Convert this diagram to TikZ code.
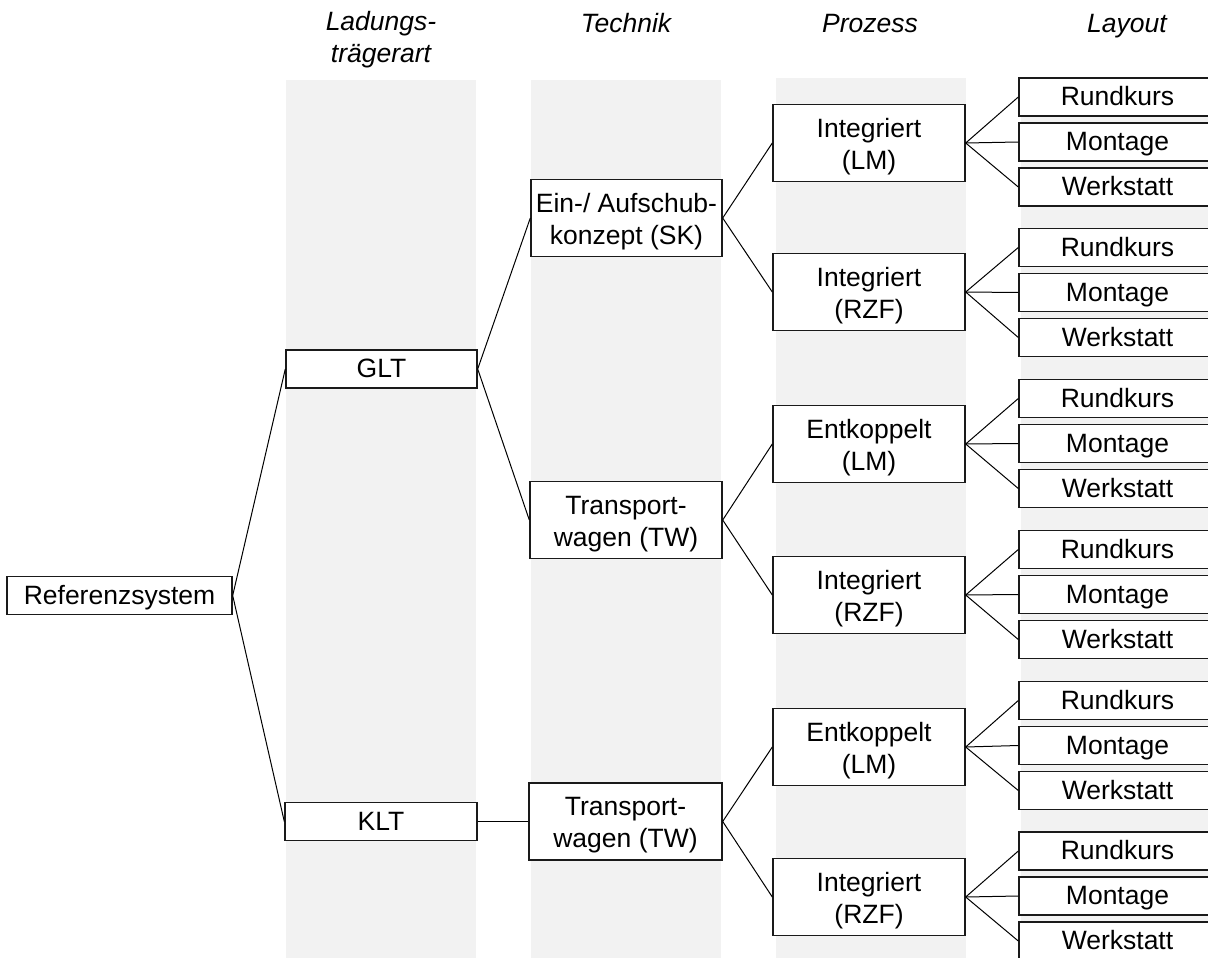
\documentclass[tikz,border=0pt]{standalone}
\usepackage{fontspec}
\setmainfont{Liberation Sans}
\definecolor{bandgray}{HTML}{F2F2F2}
\definecolor{edge}{HTML}{1A1A1A}
% two centred lines with a fixed top strut, so every two-line box sets its baselines alike
\newcommand{\twolines}[2]{\rule{0pt}{25.5pt}#1\\#2}
\begin{document}
\begin{tikzpicture}[x=1pt,y=-1pt,
  every node/.style={font=\fontsize{26.5}{32}\selectfont},
  band/.style={fill=bandgray, draw=none},
  head/.style={anchor=base, inner sep=0pt, font=\fontsize{26.5}{32}\selectfont\itshape},
  box/.style={draw=edge, line width=1.4pt, fill=white, align=center, inner sep=0pt},
  onebox/.style={box, minimum width=#1, minimum height=38pt, text height=21pt, text depth=3.5pt},
  twobox/.style={box, minimum width=#1, minimum height=77pt},
  link/.style={draw=black, line width=1pt}
]
% page frame
\useasboundingbox (0,0) rectangle (1208,958);

% column bands
\fill[band] (286,80) rectangle (476,958);
\fill[band] (531,80) rectangle (721,958);
\fill[band] (776,78) rectangle (966,958);
\fill[band] (1021,80) rectangle (1215,958);

% column headings
\node[head] (hLa) at (381,31) {Ladungs-};
\node[head] (hLb) at (381,63) {trägerart};
\node[head] (hT)  at (626,33) {Technik};
\node[head] (hP)  at (870,33) {Prozess};
\node[head] (hL)  at (1127,33) {Layout};

% root and carrier types
\node[onebox=225pt] (ref) at (119.5,595.5) {Referenzsystem};
\node[onebox=191pt] (glt) at (381.5,369) {GLT};
\node[onebox=192pt] (klt) at (381,821.5) {KLT};

% technique
\node[twobox=191pt] (sk)  at (626.5,218) {\twolines{Ein-/ Aufschub-}{konzept (SK)}};
\node[twobox=192pt] (tw1) at (626,520) {\twolines{Transport-}{wagen (TW)}};
\node[twobox=193pt] (tw2) at (625.5,821.5) {\twolines{Transport-}{wagen (TW)}};

% process
\node[twobox=192pt] (p1) at (869,143) {\twolines{Integriert}{(LM)}};
\node[twobox=192pt] (p2) at (869,292) {\twolines{Integriert}{(RZF)}};
\node[twobox=192pt] (p3) at (869,444) {\twolines{Entkoppelt}{(LM)}};
\node[twobox=192pt] (p4) at (869,595) {\twolines{Integriert}{(RZF)}};
\node[twobox=192pt] (p5) at (869,747) {\twolines{Entkoppelt}{(LM)}};
\node[twobox=192pt] (p6) at (869,897) {\twolines{Integriert}{(RZF)}};

% layout boxes, three per process (their right edges run off the page)
\foreach \i/\yc in {1/142,2/292.5,3/443.5,4/594.5,5/745.5,6/896}{
  \node[onebox=197pt] (r\i) at (1117.5,\yc-45) {Rundkurs};
  \node[onebox=197pt] (m\i) at (1117.5,\yc) {Montage};
  \node[onebox=197pt] (w\i) at (1117.5,\yc+45) {Werkstatt};
}

% connectors
\draw[link] (ref.east) -- (glt.west);
\draw[link] (ref.east) -- (klt.west);
\draw[link] (glt.east) -- (sk.west);
\draw[link] (glt.east) -- (tw1.west);
\draw[link] (klt.east) -- (tw2.west);
\draw[link] (sk.east) -- (p1.west);
\draw[link] (sk.east) -- (p2.west);
\draw[link] (tw1.east) -- (p3.west);
\draw[link] (tw1.east) -- (p4.west);
\draw[link] (tw2.east) -- (p5.west);
\draw[link] (tw2.east) -- (p6.west);
\foreach \i in {1,...,6}{
  \draw[link] (p\i.east) -- (r\i.west);
  \draw[link] (p\i.east) -- (m\i.west);
  \draw[link] (p\i.east) -- (w\i.west);
}
\end{tikzpicture}
\end{document}
